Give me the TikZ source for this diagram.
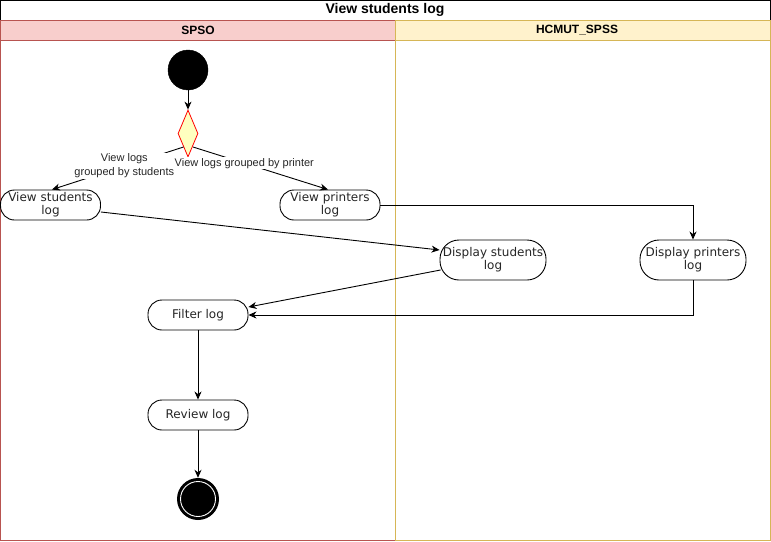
\documentclass[tikz,border=0pt]{standalone}
\usepackage{fontspec}
\setmainfont{Liberation Sans}
\newfontfamily\nodefont{DejaVu Sans}
\usetikzlibrary{shapes.geometric,arrows.meta,calc}
\definecolor{spsofill}{HTML}{F8CECC}
\definecolor{spsoline}{HTML}{B85450}
\definecolor{spssfill}{HTML}{FFF2CC}
\definecolor{spssline}{HTML}{D6B656}
\definecolor{decfill}{HTML}{FFFFC0}
\definecolor{decline}{HTML}{FF0000}
\tikzset{
  act/.style={draw=black, line width=0.9pt, rounded corners=14pt, minimum height=30pt,
    minimum width=100pt, align=center, inner sep=1pt,
    font=\nodefont\fontsize{12}{13}\selectfont, text=black!85},
  bigact/.style={act, minimum height=40pt, minimum width=106pt, rounded corners=19pt},
  flow/.style={draw=black, line width=0.9pt, -{Stealth[length=8pt,width=7pt,inset=2.5pt]}},
  elabel/.style={fill=white, inner sep=1pt, align=center, font=\fontsize{11}{14}\selectfont, text=black!85},
  hdr/.style={font=\bfseries\fontsize{12}{14}\selectfont},
}
\begin{document}
\begin{tikzpicture}[x=1pt,y=-1pt]
\useasboundingbox (0,0) rectangle (771,541);
% pool title
\draw[black, line width=0.9pt, fill=white] (0.5,0.5) rectangle (770,20);
\node[font=\bfseries\fontsize{14}{16}\selectfont] (title) at (385,10) {View students log};
% lanes
\draw[spsoline, line width=0.9pt, fill=white] (0.5,40) rectangle (395,540);
\draw[spssline, line width=0.9pt, fill=white] (395,40) rectangle (770,540);
\draw[spsoline, line width=0.9pt, fill=spsofill] (0.5,20) rectangle (395,40);
\draw[spssline, line width=0.9pt, fill=spssfill] (395,20) rectangle (770,40);
\node[hdr] (l1) at (198,30) {SPSO};
\node[hdr] (l2) at (577,30) {HCMUT\_SPSS};
% start
\node[circle, fill=black, draw=black, minimum size=40pt, inner sep=0pt] (start) at (188,70) {};
\node[diamond, draw=decline, fill=decfill, line width=0.8pt, minimum width=20pt, minimum height=47pt, inner sep=0pt, aspect=0.43] (dec) at (188,133.5) {};
% activities
\node[act] (vs) at (50.5,205) {View students\\log};
\node[act] (vp) at (330,205) {View printers\\log};
\node[bigact] (ds) at (493,260) {Display students\\log};
\node[bigact] (dp) at (693,260) {Display printers\\log};
\node[act] (fl) at (198,315) {Filter log};
\node[act] (rl) at (198,415) {Review log};
% end
\node[circle, fill=black, minimum size=42pt, inner sep=0pt] (end) at (198,499) {};
\draw[white, line width=0.9pt] (end.center) circle (17.5pt);
% connectors
\draw[flow] (start) -- (dec.north);
\coordinate (ls) at (183.5,147);
\coordinate (rs) at (193,147);
\draw[flow] (ls) -- node[elabel, pos=0.45] {View logs\\grouped by students} ($(vs.north)+(1.5,0)$);
\draw[flow] (rs) -- node[elabel, pos=0.38] {View logs grouped by printer} ($(vp.north)+(-2,0)$);
\draw[flow] ($(vs.east)+(0,7)$) -- ($(ds.west)+(0,-10)$);
\draw[flow] (vp.east) -| (dp.north);
\draw[flow] ($(ds.west)+(1,10)$) -- ($(fl.east)+(0,-8)$);
\draw[flow] (dp.south) |- (fl.east);
\draw[flow] (fl) -- (rl);
\draw[flow] (rl) -- (end);
\end{tikzpicture}
\end{document}
